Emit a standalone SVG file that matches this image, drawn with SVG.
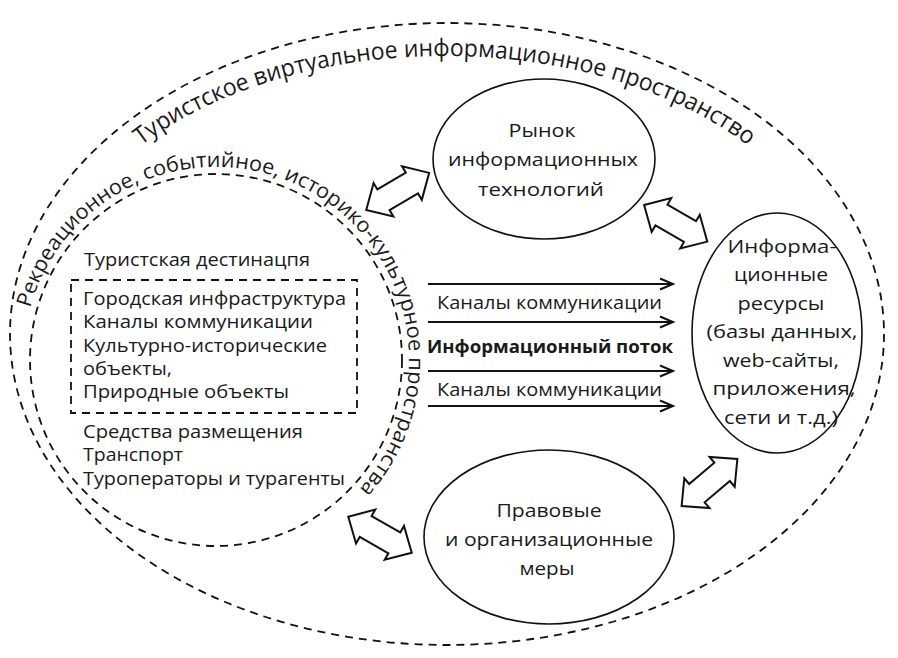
<svg xmlns="http://www.w3.org/2000/svg" xmlns:xlink="http://www.w3.org/1999/xlink" width="898" height="658" viewBox="0 0 898 658">
<style>
  .dash{fill:none;stroke:#111;stroke-width:1.8;stroke-dasharray:8 6}
  .node{fill:none;stroke:#111;stroke-width:1.6}
  text{font-family:"Open Sans","DejaVu Sans",sans-serif;fill:#1a1a1a}
  .t{font-size:18px}
  .c{font-size:19px;text-anchor:middle}
  .lab{font-size:18.5px;text-anchor:middle}
  .b{font-weight:bold}
  .flow{stroke:#111;stroke-width:2;fill:none;marker-end:url(#ah)}
  .blk{fill:#fff;stroke:#111;stroke-width:2;stroke-linejoin:miter}
</style>
<defs>
  <marker id="ah" markerUnits="userSpaceOnUse" markerWidth="18" markerHeight="14" refX="15" refY="7" orient="auto">
    <path d="M2,1.5 L15,7 L2,12.5" fill="none" stroke="#111" stroke-width="2"/>
  </marker>
  <polygon id="dbl" points="-36.5,0 -16.5,-19.5 -16.5,-12 16.5,-12 16.5,-19.5 36.5,0 16.5,19.5 16.5,12 -16.5,12 -16.5,19.5"/>
  <path id="p-outer" d="M141.2,145.5 A393,246 0 0 1 747.8,145.5"/>
  <path id="p-inner" d="M30.1,308 A193,193 0 1 1 359.4,489.1"/>
</defs>
<rect width="898" height="658" fill="#fff"/>

<g id="outer-space">
  <ellipse class="dash" cx="447" cy="334" rx="437" ry="311"/>
  <text style="font-size:24px"><textPath href="#p-outer" xlink:href="#p-outer" textLength="643" lengthAdjust="spacingAndGlyphs">Туристское виртуальное информационное пространство</textPath></text>
</g>

<g id="inner-space">
  <circle class="dash" cx="216" cy="360" r="186"/>
  <text style="font-size:21px"><textPath href="#p-inner" xlink:href="#p-inner" textLength="695" lengthAdjust="spacingAndGlyphs">Рекреационное, событийное, историко-культурное пространства</textPath></text>
  <text class="t" x="84" y="266" textLength="226" lengthAdjust="spacingAndGlyphs">Туристская дестинацпя</text>
  <text class="t" x="83" y="438" textLength="220" lengthAdjust="spacingAndGlyphs">Средства размещения</text>
  <text class="t" x="83" y="461" textLength="100" lengthAdjust="spacingAndGlyphs">Транспорт</text>
  <text class="t" x="83" y="485" textLength="262" lengthAdjust="spacingAndGlyphs">Туроператоры и турагенты</text>
</g>

<g id="destination-box">
  <rect class="dash" x="71" y="280" width="286" height="133"/>
  <text class="t" x="83" y="305" textLength="263" lengthAdjust="spacingAndGlyphs">Городская инфраструктура</text>
  <text class="t" x="83" y="328" textLength="230" lengthAdjust="spacingAndGlyphs">Каналы коммуникации</text>
  <text class="t" x="83" y="352" textLength="244" lengthAdjust="spacingAndGlyphs">Культурно-исторические</text>
  <text class="t" x="83" y="375" textLength="89" lengthAdjust="spacingAndGlyphs">объекты,</text>
  <text class="t" x="83" y="398" textLength="206" lengthAdjust="spacingAndGlyphs">Природные объекты</text>
</g>

<g id="it-market">
  <ellipse class="node" cx="544" cy="159" rx="111" ry="80"/>
  <text class="c" x="542" y="137" textLength="67" lengthAdjust="spacingAndGlyphs">Рынок</text>
  <text class="c" x="543" y="166" textLength="190" lengthAdjust="spacingAndGlyphs">информационных</text>
  <text class="c" x="541" y="196" textLength="126" lengthAdjust="spacingAndGlyphs">технологий</text>
</g>

<g id="info-resources">
  <ellipse class="node" cx="777" cy="333" rx="85" ry="120"/>
  <text class="c" x="782" y="252.5" textLength="109" lengthAdjust="spacingAndGlyphs">Информа-</text>
  <text class="c" x="781" y="281" textLength="94" lengthAdjust="spacingAndGlyphs">ционные</text>
  <text class="c" x="781" y="310" textLength="87" lengthAdjust="spacingAndGlyphs">ресурсы</text>
  <text class="c" x="782" y="338" textLength="151" lengthAdjust="spacingAndGlyphs">(базы данных,</text>
  <text class="c" x="781" y="366.5" textLength="116" lengthAdjust="spacingAndGlyphs">web-сайты,</text>
  <text class="c" x="784" y="395" textLength="143" lengthAdjust="spacingAndGlyphs">приложения,</text>
  <text class="c" x="781" y="423.5" textLength="114" lengthAdjust="spacingAndGlyphs">сети и т.д.)</text>
</g>

<g id="legal-measures">
  <ellipse class="node" cx="549" cy="537" rx="125" ry="87"/>
  <text class="c" x="549" y="517" textLength="105" lengthAdjust="spacingAndGlyphs">Правовые</text>
  <text class="c" x="549" y="546" textLength="208" lengthAdjust="spacingAndGlyphs">и организационные</text>
  <text class="c" x="547" y="575" textLength="55" lengthAdjust="spacingAndGlyphs">меры</text>
</g>

<g id="connectors">
  <line class="flow" x1="428" y1="284" x2="673" y2="284"/>
  <line class="flow" x1="428" y1="322" x2="673" y2="322"/>
  <line class="flow" x1="428" y1="371" x2="673" y2="371"/>
  <line class="flow" x1="428" y1="406" x2="673" y2="406"/>
  <text class="lab" x="549.5" y="309" textLength="225" lengthAdjust="spacingAndGlyphs">Каналы коммуникации</text>
  <text class="lab b" x="550" y="352.5" textLength="246" lengthAdjust="spacingAndGlyphs">Информационный поток</text>
  <text class="lab" x="549.5" y="395.5" textLength="225" lengthAdjust="spacingAndGlyphs">Каналы коммуникации</text>
  <use href="#dbl" xlink:href="#dbl" class="blk" transform="translate(397.7,191.4) rotate(-30.5)"/>
  <use href="#dbl" xlink:href="#dbl" class="blk" transform="translate(675.7,223.3) rotate(30.1)"/>
  <use href="#dbl" xlink:href="#dbl" class="blk" transform="translate(380,534.7) rotate(29.6)"/>
  <use href="#dbl" xlink:href="#dbl" class="blk" transform="translate(709.5,482.5) rotate(-40.2)"/>
</g>
</svg>
